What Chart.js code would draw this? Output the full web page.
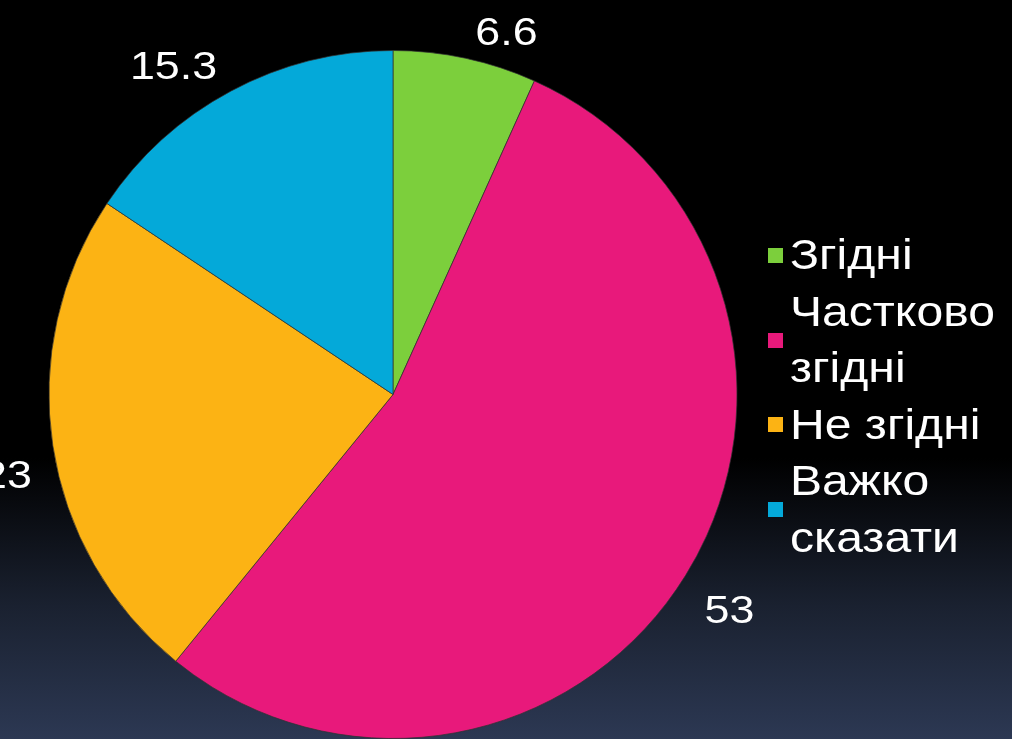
<!DOCTYPE html>
<html>
<head>
<meta charset="utf-8">
<script src="https://cdn.jsdelivr.net/npm/chart.js@4"></script>
<style>
    body { margin: 0; }
    #wrap {
        position: relative;
        width: 1012px;
        height: 739px;
        overflow: hidden;
        background: linear-gradient(to bottom, #000 0%, #000 62%, #1a2130 82%, #2c3853 100%);
        font-family: "Liberation Sans", Arial, sans-serif;
    }
    #legend {
        position: absolute;
        left: 768px;
        top: 227px;
        color: #fff;
        font-size: 42px;
        line-height: 56.5px;
    }
    .item { display: flex; align-items: center; }
    .box { width: 15px; height: 15px; margin-right: 7px; flex: none; }
    .txt { width: 190px; transform: scaleX(1.145); transform-origin: left center; }
</style>
</head>
<body>
<div id="wrap">
    <canvas id="pie" width="1012" height="739"></canvas>
    <div id="legend"></div>
</div>
<script>
const labels = ['Згідні', 'Частково згідні', 'Не згідні', 'Важко сказати'];
const values = [6.6, 53, 23, 15.3];
const colors = ['#7ccf3c', '#e8197b', '#fcb314', '#04a9d9'];

// value labels outside each slice, box corner pinned just past the rim
const outsideLabels = {
    id: 'outsideLabels',
    afterDraw(chart) {
        const ctx = chart.ctx;
        const arcs = chart.getDatasetMeta(0).data;
        const stretch = 1.18;
        const h = 40;
        ctx.save();
        ctx.fillStyle = '#fff';
        ctx.font = '38px "Liberation Sans", Arial, sans-serif';
        ctx.textAlign = 'center';
        ctx.textBaseline = 'middle';
        arcs.forEach((arc, i) => {
            const text = String(values[i]);
            const w = ctx.measureText(text).width * stretch + 14;
            const mid = (arc.startAngle + arc.endAngle) / 2;
            const d = arc.outerRadius + 14;
            const ax = arc.x + Math.cos(mid) * d;
            const ay = arc.y + Math.sin(mid) * d;
            const x = ax + Math.sign(Math.cos(mid)) * w / 2;
            const y = ay + Math.sign(Math.sin(mid)) * h / 2 + 10;
            ctx.save();
            ctx.translate(x, y);
            ctx.scale(stretch, 1);
            ctx.fillText(text, 0, 0);
            ctx.restore();
        });
        ctx.restore();
    }
};

new Chart(document.getElementById('pie').getContext('2d'), {
    type: 'pie',
    data: {
        labels: labels,
        datasets: [{
            data: values,
            backgroundColor: colors,
            borderColor: 'rgba(50,50,50,0.7)',
            borderWidth: 1
        }]
    },
    options: {
        responsive: false,
        animation: false,
        layout: { padding: { top: 50, left: 48, right: 274, bottom: 0 } },
        plugins: {
            legend: { display: false },
            tooltip: { enabled: false }
        }
    },
    plugins: [outsideLabels]
});

const legend = document.getElementById('legend');
labels.forEach((name, i) => {
    const item = document.createElement('div');
    item.className = 'item';
    item.innerHTML = '<div class="box" style="background:' + colors[i] + '"></div><div class="txt">' + name + '</div>';
    legend.appendChild(item);
});
</script>
</body>
</html>
